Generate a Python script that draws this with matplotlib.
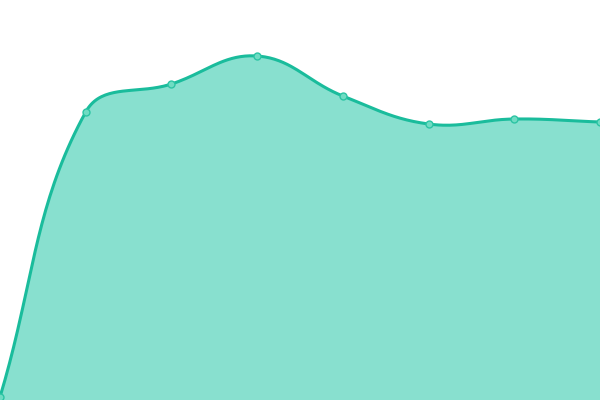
import numpy as np
import matplotlib.pyplot as plt

# values (bottom of the chart = 0, top = 400)
labels = ['1', '2', '3', '4', '5', '6', '7', '8']
values = [3, 288, 316, 344, 304, 276, 281, 278]

line_color = '#1abc9c'
fill_color = '#88e0cf'
tension = 0.4


def spline_curve(x, y, scale_x, n=40):
    # bezier control points like Chart.js splineCurve, in pixel space
    px = np.asarray(x, dtype=float) * scale_x
    py = np.asarray(y, dtype=float)
    k = len(px)
    cp_prev, cp_next = [], []
    for i in range(k):
        a = i - 1 if i > 0 else i
        c = i + 1 if i < k - 1 else i
        d01 = np.hypot(px[i] - px[a], py[i] - py[a])
        d12 = np.hypot(px[c] - px[i], py[c] - py[i])
        tot = d01 + d12
        s01 = d01 / tot if tot else 0
        s12 = d12 / tot if tot else 0
        fa, fb = tension * s01, tension * s12
        dx, dy = px[c] - px[a], py[c] - py[a]
        cp_prev.append((px[i] - fa * dx, py[i] - fa * dy))
        cp_next.append((px[i] + fb * dx, py[i] + fb * dy))
    t = np.linspace(0, 1, n)[:, None]
    segs = []
    for i in range(k - 1):
        p0 = np.array([px[i], py[i]])
        p1 = np.array(cp_next[i])
        p2 = np.array(cp_prev[i + 1])
        p3 = np.array([px[i + 1], py[i + 1]])
        segs.append((1 - t) ** 3 * p0 + 3 * (1 - t) ** 2 * t * p1
                    + 3 * (1 - t) * t ** 2 * p2 + t ** 3 * p3)
    pts = np.vstack(segs)
    return pts[:, 0] / scale_x, pts[:, 1]


x = np.arange(len(values))
scale_x = 600 / (len(values) - 1)
sx, sy = spline_curve(x, values, scale_x)

fig = plt.figure(figsize=(6, 4), dpi=100)
ax = fig.add_axes([0, 0, 1, 1])
ax.fill_between(sx, sy, 0, color=fill_color, linewidth=0)
ax.plot(sx, sy, color=line_color, linewidth=2.2, solid_capstyle='round')
ax.plot(x, values, 'o', markersize=5, markerfacecolor='#6fdcc3',
        markeredgecolor='#2cc4a4', markeredgewidth=1)
ax.set_xlim(0, len(values) - 1)
ax.set_ylim(0, 400)
ax.axis('off')
fig.savefig('out.png', dpi=100)
